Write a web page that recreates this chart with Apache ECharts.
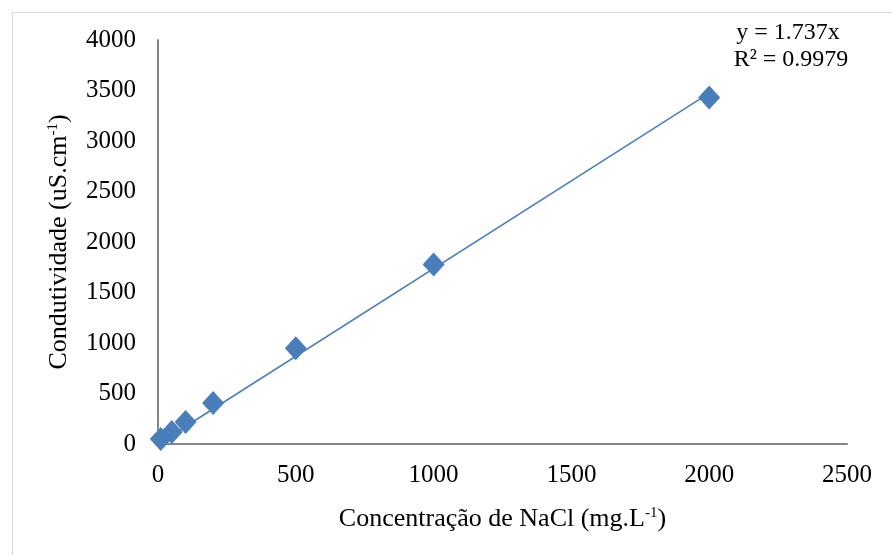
<!DOCTYPE html>
<html>
<head>
<meta charset="utf-8">
<script src="https://cdn.jsdelivr.net/npm/echarts@6/dist/echarts.min.js"></script>
<style>
html,body{margin:0;padding:0;background:#fff;}
#chart{width:892px;height:555px;}
</style>
</head>
<body>
<div id="chart"></div>
<script>
// Data
const concentrations = [10, 50, 100, 200, 500, 1000, 2000];
const conductivity = [50, 119, 218, 406, 948, 1778, 3430];
const slope = 1.737;
const r2 = 0.9979;
const xTicks = [0, 500, 1000, 1500, 2000, 2500];
const yTicks = [0, 500, 1000, 1500, 2000, 2500, 3000, 3500, 4000];

const FONT = '"Liberation Serif", "Times New Roman", serif';
const BLUE = '#4a7ebb';

const points = concentrations.map((c, i) => [c, conductivity[i]]);
const xMin = Math.min(...concentrations), xMax = Math.max(...concentrations);
const trend = [[xMin, slope * xMin], [xMax, slope * xMax]];

const chart = echarts.init(document.getElementById('chart'), null, {renderer: 'canvas'});
chart.setOption({
  animation: false,
  backgroundColor: '#fff',
  grid: {left: 158, right: 45, top: 40, bottom: 111, containLabel: false},
  xAxis: {
    type: 'value', min: xTicks[0], max: xTicks[xTicks.length - 1], interval: xTicks[1] - xTicks[0],
    axisLine: {show: true, lineStyle: {color: '#868686', width: 2}},
    axisTick: {show: false},
    splitLine: {show: false},
    axisLabel: {color: '#000', fontFamily: FONT, fontSize: 25, margin: 19, formatter: v => String(v)},
    name: '{t|Concentração de NaCl (mg.L}{s|-1}{t|)}',
    nameLocation: 'middle', nameGap: 62,
    nameTextStyle: {
      rich: {
        t: {fontFamily: FONT, fontSize: 26, color: '#000'},
        s: {fontFamily: FONT, fontSize: 15, color: '#000', verticalAlign: 'top', padding: [0, 0, 11, 0]}
      }
    }
  },
  yAxis: {
    type: 'value', min: yTicks[0], max: yTicks[yTicks.length - 1], interval: yTicks[1] - yTicks[0],
    axisLine: {show: true, lineStyle: {color: '#868686', width: 2}},
    axisTick: {show: false},
    splitLine: {show: false},
    axisLabel: {color: '#000', fontFamily: FONT, fontSize: 25, margin: 22, formatter: v => String(v)},
    name: '{t|Condutividade (uS.cm}{s|-1}{t|)}',
    nameLocation: 'middle', nameGap: 86,
    nameTextStyle: {
      rich: {
        t: {fontFamily: FONT, fontSize: 26, color: '#000'},
        s: {fontFamily: FONT, fontSize: 15, color: '#000', verticalAlign: 'top', padding: [0, 0, 11, 0]}
      }
    }
  },
  series: [
    {
      type: 'line', data: trend, symbol: 'none', silent: true,
      lineStyle: {color: BLUE, width: 1.5}, z: 1
    },
    {
      type: 'scatter', data: points, symbol: 'diamond', symbolSize: [22, 24],
      itemStyle: {color: BLUE, opacity: 1}, z: 2
    }
  ],
  graphic: [
    {
      type: 'rect', left: 10, top: 10, silent: true,
      shape: {width: 900, height: 560},
      style: {fill: 'none', stroke: '#d9d9d9', lineWidth: 1}
    },
    {
      type: 'text', x: 788, y: 33,
      style: {text: 'y = ' + slope + 'x', fontFamily: FONT, fontSize: 24, fill: '#000', textAlign: 'center', textVerticalAlign: 'middle'}
    },
    {
      type: 'text', x: 791, y: 60,
      style: {text: 'R² = ' + r2, fontFamily: FONT, fontSize: 24, fill: '#000', textAlign: 'center', textVerticalAlign: 'middle'}
    }
  ]
});
</script>
</body>
</html>
